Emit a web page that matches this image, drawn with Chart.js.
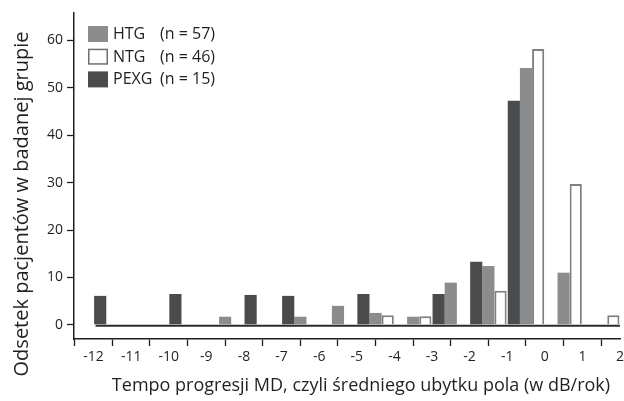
<!DOCTYPE html>
<html><head><meta charset="utf-8">
<script src="https://cdn.jsdelivr.net/npm/chart.js@4.4.1/dist/chart.umd.min.js"></script>
<style>html,body{margin:0;padding:0;background:#fff}#wrap{width:624px;height:401px}</style>
</head><body><div id="wrap"><canvas id="c" width="624" height="401"></canvas></div>
<script>
// ---- data ----
const binStarts = [-12,-11,-10,-9,-8,-7,-6,-5,-4,-3,-2,-1,0,1];
const xTickValues = [-12,-11,-10,-9,-8,-7,-6,-5,-4,-3,-2,-1,0,1,2];
const yTickValues = [0,10,20,30,40,50,60];
const seriesNames = ['HTG','NTG','PEXG'];
const seriesN = [57,46,15];
const htgValues  = [null,null,null,1.7,null,1.7,4.0,2.5,1.7,8.9,12.4,54.2,11.0,null];
const ntgValues  = [null,null,null,null,null,null,null,2.0,1.8,null,7.2,58.2,29.7,2.0];
const pexgValues = [6.1,null,6.5,null,6.3,6.1,null,6.5,null,6.5,13.3,47.3,null,null];
const xTitle = 'Tempo progresji MD, czyli średniego ubytku pola (w dB/rok)';
const yTitle = 'Odsetek pacjentów w badanej grupie';

// ---- styles ----
const FONT = '"Open Sans", "Noto Sans", sans-serif';
const TEXT = '#231f20';
const C_HTG = '#8b8c8e';
const C_NTG_BORDER = '#808080';
const C_PEXG = '#4a4b4d';

const toPoints = vals => binStarts.map((b, i) => ({x: b + 0.5, y: vals[i]}));

const legendItems = [
  {name: seriesNames[0], n: seriesN[0], fill: C_HTG, stroke: null},
  {name: seriesNames[1], n: seriesN[1], fill: '#ffffff', stroke: '#6f6f6f'},
  {name: seriesNames[2], n: seriesN[2], fill: C_PEXG, stroke: null}
];

const decorPlugin = {
  id: 'decor',
  afterDatasetsDraw(chart) {
    const ctx = chart.ctx, xs = chart.scales.x, ys = chart.scales.y;
    const y0 = ys.getPixelForValue(0);
    ctx.save();
    ctx.strokeStyle = '#2b2b2b';
    ctx.lineWidth = 2;
    ctx.beginPath();
    ctx.moveTo(xs.getPixelForValue(xTickValues[0]) + 2, y0 + 1);
    ctx.lineTo(xs.getPixelForValue(xTickValues[xTickValues.length - 1]), y0 + 1);
    ctx.stroke();
    ctx.restore();
  },
  afterDraw(chart) {
    const ctx = chart.ctx, a = chart.chartArea;
    ctx.save();
    ctx.fillStyle = TEXT;
    // axis titles
    ctx.font = '18px ' + FONT;
    ctx.textAlign = 'center';
    ctx.textBaseline = 'alphabetic';
    ctx.fillText(xTitle, (a.left + a.right) / 2 + 14, 391);
    ctx.save();
    ctx.translate(28, 204);
    ctx.rotate(-Math.PI / 2);
    ctx.font = '20px ' + FONT;
    ctx.fillText(yTitle, 0, 0);
    ctx.restore();
    // legend
    ctx.font = '16px ' + FONT;
    ctx.textAlign = 'left';
    legendItems.forEach((it, i) => {
      const top = a.top + 13 + i * 22.7;
      ctx.fillStyle = it.fill;
      ctx.fillRect(a.left + 14, top, 20, 16);
      if (it.stroke) {
        ctx.strokeStyle = it.stroke;
        ctx.lineWidth = 1.5;
        ctx.strokeRect(a.left + 14.75, top + 0.75, 18.5, 14.5);
      }
      ctx.fillStyle = TEXT;
      ctx.fillText(it.name, a.left + 39, top + 13);
      ctx.fillText('(n = ' + it.n + ')', a.left + 86, top + 13);
    });
    ctx.restore();
  }
};

new Chart(document.getElementById('c'), {
  type: 'bar',
  data: {
    datasets: [
      {label: seriesNames[2], data: toPoints(pexgValues), backgroundColor: C_PEXG, borderWidth: 0},
      {label: seriesNames[0], data: toPoints(htgValues), backgroundColor: C_HTG, borderWidth: 0},
      {label: seriesNames[1], data: toPoints(ntgValues), backgroundColor: '#ffffff', borderColor: C_NTG_BORDER, borderWidth: 2, borderSkipped: 'start'}
    ]
  },
  options: {
    responsive: false,
    animation: false,
    devicePixelRatio: 1,
    layout: {padding: {top: 13, right: 0, left: 0, bottom: 0}},
    datasets: {bar: {categoryPercentage: 0.97, barPercentage: 1, grouped: true}},
    plugins: {legend: {display: false}, tooltip: {enabled: false}},
    scales: {
      x: {
        type: 'linear', min: -12.52, max: 2, offset: false,
        afterBuildTicks: s => { s.ticks = xTickValues.map(v => ({value: v})); },
        afterFit: s => { s.height = 62; s.paddingLeft = 0; s.paddingRight = 4; },
        grid: {drawOnChartArea: false, drawTicks: true, tickLength: 7, tickColor: TEXT, tickWidth: 1.3},
        border: {display: true, color: TEXT, width: 1.5},
        ticks: {font: {family: FONT, size: 14}, color: TEXT, padding: 3, maxRotation: 0, autoSkip: false, callback: v => String(v)}
      },
      y: {
        type: 'linear', min: -3, max: 65.8,
        afterBuildTicks: s => { s.ticks = yTickValues.map(v => ({value: v})); },
        afterFit: s => { s.width = 74; s.paddingTop = 0; s.paddingBottom = 0; },
        grid: {drawOnChartArea: false, drawTicks: true, tickLength: 7, tickColor: TEXT, tickWidth: 1.3},
        border: {display: true, color: TEXT, width: 1.5},
        ticks: {font: {family: FONT, size: 14}, color: TEXT, padding: 4, callback: v => String(v)}
      }
    }
  },
  plugins: [decorPlugin]
});
</script>
</body></html>
